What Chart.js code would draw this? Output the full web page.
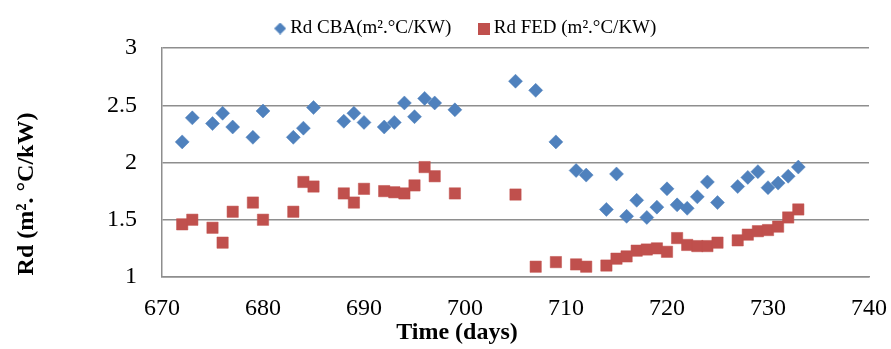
<!DOCTYPE html>
<html>
<head>
<meta charset="utf-8">
<title>Rd CBA / FED</title>
<script src="https://cdn.jsdelivr.net/npm/chart.js@4.4.1/dist/chart.umd.min.js"></script>
<style>
    html, body { margin: 0; padding: 0; background: #fff; }
    #chart { display: block; }
</style>
</head>
<body>
<canvas id="chart" width="891" height="349"></canvas>
<script>
// Sampling days (shared by both series).
var days = [672, 673, 675, 676, 677, 679, 680, 683, 684, 685, 688, 689, 690, 692, 693,
    694, 695, 696, 697, 699, 705, 707, 709, 711, 712, 714, 715, 716, 717, 718, 719, 720,
    721, 722, 723, 724, 725, 727, 728, 729, 730, 731, 732, 733];

// Rd CBA values (m².°C/kW).
var rdCba = [2.18, 2.39, 2.34, 2.43, 2.31, 2.22, 2.45, 2.22, 2.30, 2.48, 2.36, 2.43, 2.35,
    2.31, 2.35, 2.52, 2.40, 2.56, 2.52, 2.46, 2.71, 2.63, 2.18, 1.93, 1.89, 1.59, 1.90, 1.53,
    1.67, 1.52, 1.61, 1.77, 1.63, 1.60, 1.70, 1.83, 1.65, 1.79, 1.87, 1.92, 1.78, 1.82, 1.88,
    1.96];

// Rd FED values (m².°C/kW).
var rdFed = [1.46, 1.50, 1.43, 1.30, 1.57, 1.65, 1.50, 1.57, 1.83, 1.79, 1.73, 1.65, 1.77,
    1.75, 1.74, 1.73, 1.80, 1.96, 1.88, 1.73, 1.72, 1.09, 1.13, 1.11, 1.09, 1.10, 1.16, 1.18,
    1.23, 1.24, 1.25, 1.22, 1.34, 1.28, 1.27, 1.27, 1.30, 1.32, 1.37, 1.40, 1.41, 1.44, 1.52,
    1.59];

var seriesLabels = ['Rd CBA(m².°C/KW)', 'Rd FED (m².°C/KW)'];
var xTitle = 'Time (days)';
var yTitle = 'Rd (m². °C/kW)';

(function () {

    var BLUE = '#4F81BD', RED = '#C0504D', GRID = '#8e8e8e';
    var icons, titles, chart;

    /**
     * Builds a small legend icon on an off-screen canvas.
     *
     * @param {string} shape 'diamond' or 'square'
     * @param {number} size
     * @param {string} color
     */
    function makeIcon(shape, size, color)
    {
        var c = document.createElement('canvas'), ctx, h = size / 2;
        c.width = size;
        c.height = size;
        ctx = c.getContext('2d');
        ctx.fillStyle = color;
        if (shape === 'diamond') {
            ctx.beginPath();
            ctx.moveTo(h, 0);
            ctx.lineTo(size, h);
            ctx.lineTo(h, size);
            ctx.lineTo(0, h);
            ctx.closePath();
            ctx.fill();
        } else {
            ctx.fillRect(0, 0, size, size);
        }
        return c;
    }

    function toPoints(values)
    {
        return days.map(function (d, i) { return { x: d, y: values[i] }; });
    }

    icons = [makeIcon('diamond', 12, BLUE), makeIcon('square', 12, RED)];

    // Axis titles sit off-centre in the original, so they are drawn here.
    titles = {
        id: 'axisTitles',
        afterDraw: function (c) {
            var ctx = c.ctx;
            ctx.save();
            ctx.fillStyle = '#000';
            ctx.font = 'bold 24px "Liberation Serif"';
            ctx.textAlign = 'center';
            ctx.textBaseline = 'middle';
            ctx.fillText(xTitle, 457, 333);
            ctx.translate(27, 194);
            ctx.rotate(-Math.PI / 2);
            ctx.fillText(yTitle, 0, 0);
            ctx.restore();
        }
    };

    Chart.defaults.font.family = '"Liberation Serif", "Times New Roman", serif';
    Chart.defaults.color = '#000';

    chart = new Chart(document.getElementById('chart'), {
        type: 'scatter',
        data: {
            datasets: [{
                label: seriesLabels[0],
                data: toPoints(rdCba),
                pointStyle: 'rectRot',
                pointRadius: 7,
                pointHoverRadius: 7,
                backgroundColor: BLUE,
                borderColor: BLUE,
                borderWidth: 0.5
            }, {
                label: seriesLabels[1],
                data: toPoints(rdFed),
                pointStyle: 'rect',
                pointRadius: 8,
                pointHoverRadius: 8,
                backgroundColor: RED,
                borderColor: RED,
                borderWidth: 0.5
            }]
        },
        options: {
            responsive: false,
            animation: false,
            layout: { padding: { left: 67, right: 22, top: -24.5, bottom: 0 } },
            plugins: {
                tooltip: { enabled: false },
                legend: {
                    position: 'top',
                    labels: {
                        usePointStyle: true,
                        pointStyleWidth: 1,
                        padding: 32,
                        font: { size: 19 },
                        generateLabels: function (c) {
                            var items = Chart.defaults.plugins.legend.labels.generateLabels(c);
                            items.forEach(function (item, i) { item.pointStyle = icons[i]; });
                            return items;
                        }
                    }
                }
            },
            scales: {
                x: {
                    type: 'linear',
                    min: 670,
                    max: 740,
                    ticks: { stepSize: 10, padding: 9, font: { size: 24 } },
                    grid: { display: false },
                    border: { display: true, color: GRID, width: 1.5 },
                    afterFit: function (s) {
                        s.height = 72;
                        s.paddingLeft = 0;
                        s.paddingRight = 0;
                    }
                },
                y: {
                    min: 1,
                    max: 3,
                    ticks: {
                        stepSize: 0.5,
                        padding: 25,
                        font: { size: 24 },
                        callback: function (v) { return String(v); }
                    },
                    grid: { color: GRID, lineWidth: 1.5, drawTicks: false },
                    border: { display: true, color: GRID, width: 1.5 },
                    afterFit: function (s) {
                        s.width = 95;
                        s.paddingTop = 48;
                    }
                }
            }
        },
        plugins: [titles]
    });

})();
</script>
</body>
</html>
